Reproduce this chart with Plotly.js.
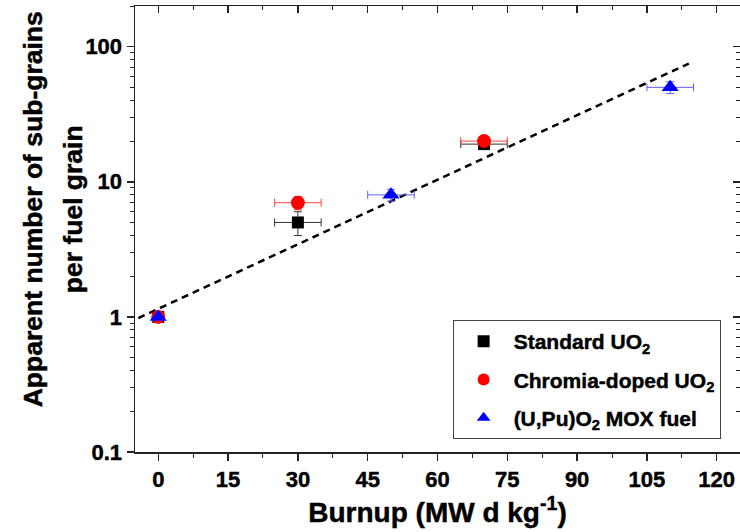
<!DOCTYPE html>
<html>
<head>
<meta charset="utf-8">
<script src="https://cdn.plot.ly/plotly-3.0.1.min.js"></script>
<style>
html,body{margin:0;padding:0;background:#fff;}
#chart{width:740px;height:532px;}
#chart svg text{stroke:#000;stroke-width:0.45px;}
</style>
</head>
<body>
<div id="chart"></div>
<script>
// Standard UO2
const stdBurnup = [0, 30, 70];
const stdSubgrains = [1, 5, 19];
const stdBurnupErr = [0, 5, 5];
const stdSubgrainsErr = [0, 1, 1];
// Chromia-doped UO2
const crBurnup = [0, 30, 70];
const crSubgrains = [1, 7, 20];
const crBurnupErr = [0, 5, 5];
const crSubgrainsErr = [0, 0.8, 1.2];
// (U,Pu)O2 MOX fuel
const moxBurnup = [0, 50, 110];
const moxSubgrains = [1, 8, 50];
const moxBurnupErr = [0, 5, 5];
const moxSubgrainsErr = [0, 0.8, 5];
// Fitted trend line (end points)
const fitBurnup = [-4.3, 114];
const fitSubgrains = [0.98, 75];

const xTickVals = [0, 15, 30, 45, 60, 75, 90, 105, 120];
const yTickVals = [0.1, 1, 10, 100];
const yTickText = ['0.1', '1', '10', '100'];

const FONT = 'Liberation Sans, Arial, sans-serif';

const traces = [
  {
    x: fitBurnup, y: fitSubgrains, mode: 'lines', showlegend: false,
    line: {color: '#000', width: 2.5, dash: '7px,5px'}, hoverinfo: 'skip'
  },
  {
    x: stdBurnup, y: stdSubgrains, mode: 'markers', name: '<b>Standard UO<sub>2</sub></b>',
    legendgroup: 'a',
    marker: {symbol: 'square', size: 12, color: '#000'},
    error_x: {type: 'data', array: stdBurnupErr, color: '#333', thickness: 1, width: 4},
    error_y: {type: 'data', array: stdSubgrainsErr, color: '#333', thickness: 1, width: 4}
  },
  {
    x: crBurnup, y: crSubgrains, mode: 'markers', name: '<b>Chromia-doped UO<sub>2</sub></b>',
    legendgroup: 'b',
    marker: {symbol: 'circle', size: 14, color: '#ff0000'},
    error_x: {type: 'data', array: crBurnupErr, color: '#ff4040', thickness: 1, width: 4},
    error_y: {type: 'data', array: crSubgrainsErr, color: '#ff4040', thickness: 1, width: 4}
  },
  {
    x: moxBurnup, y: moxSubgrains, mode: 'markers', name: '<b>(U,Pu)O<sub>2</sub> MOX fuel</b>',
    legendgroup: 'c',
    marker: {symbol: 'triangle-up', size: 15, color: '#0000ff'},
    error_x: {type: 'data', array: moxBurnupErr, color: '#6060ff', thickness: 1, width: 4},
    error_y: {type: 'data', array: moxSubgrainsErr, color: '#6060ff', thickness: 1, width: 4}
  },
  {
    x: [null], y: [null], xaxis: 'x2', yaxis: 'y2', showlegend: false, hoverinfo: 'skip', mode: 'markers'
  }
];

const layout = {
  width: 740, height: 532,
  margin: {l: 135, r: 0, t: 6, b: 80},
  paper_bgcolor: '#fff', plot_bgcolor: '#fff',
  font: {family: FONT, color: '#000'},
  showlegend: true,
  xaxis: {
    range: [-5, 125], tickvals: xTickVals, ticks: 'outside', ticklen: 7, tickwidth: 1.5,
    tickcolor: '#222', showline: true, linecolor: '#222', linewidth: 1.5,
    showgrid: false, zeroline: false,
    tickfont: {family: FONT, size: 22, weight: 'bold'},
    minor: {dtick: 7.5, tick0: 0, ticks: 'outside', ticklen: 4, tickcolor: '#222', tickwidth: 1},
    title: {text: '<b>Burnup (MW d kg<sup>-1</sup>)</b>', font: {family: FONT, size: 28}, standoff: 10}
  },
  yaxis: {
    type: 'log', range: [-1, Math.log10(200)], tickvals: yTickVals, ticktext: yTickText,
    ticks: 'outside', ticklen: 7, tickwidth: 1.5, tickcolor: '#222',
    showline: true, linecolor: '#222', linewidth: 1.5, showgrid: false, zeroline: false,
    tickfont: {family: FONT, size: 22, weight: 'bold'},
    minor: {ticks: 'outside', ticklen: 4, tickcolor: '#222', tickwidth: 1, dtick: 'D1'}
  },
  xaxis2: {
    overlaying: 'x', side: 'top', anchor: 'y2', range: [-5, 125], tickvals: xTickVals,
    ticks: 'inside', ticklen: 7, tickwidth: 1.5, tickcolor: '#222', showticklabels: false,
    showline: true, linecolor: '#222', linewidth: 1.5, showgrid: false, zeroline: false,
    minor: {dtick: 7.5, tick0: 0, ticks: 'inside', ticklen: 4, tickcolor: '#222', tickwidth: 1}
  },
  yaxis2: {
    overlaying: 'y', side: 'right', anchor: 'x2', type: 'log', range: [-1, Math.log10(200)],
    tickvals: yTickVals, ticks: 'inside', ticklen: 7, tickwidth: 1.5, tickcolor: '#222',
    showticklabels: false, showline: true, linecolor: '#222', linewidth: 1.5,
    showgrid: false, zeroline: false,
    minor: {ticks: 'inside', ticklen: 4, tickcolor: '#222', tickwidth: 1, dtick: 'D1'}
  },
  legend: {
    x: 0.525, y: 0.296, xanchor: 'left', yanchor: 'top',
    bordercolor: '#444', borderwidth: 1, bgcolor: '#fff',
    font: {family: FONT, size: 21, color: '#000'},
    tracegroupgap: 8, itemsizing: 'constant', itemwidth: 50
  },
  annotations: [
    {text: '<b>Apparent number of sub-grains</b>', xref: 'paper', yref: 'paper',
     x: -0.168, y: 0.545, xanchor: 'center', yanchor: 'middle', textangle: -90, showarrow: false,
     font: {family: FONT, size: 26.5}},
    {text: '<b>per fuel grain</b>', xref: 'paper', yref: 'paper',
     x: -0.102, y: 0.545, xanchor: 'center', yanchor: 'middle', textangle: -90, showarrow: false,
     font: {family: FONT, size: 26.5}}
  ]
};

Plotly.newPlot('chart', traces, layout, {displayModeBar: false, staticPlot: true});
</script>
</body>
</html>
